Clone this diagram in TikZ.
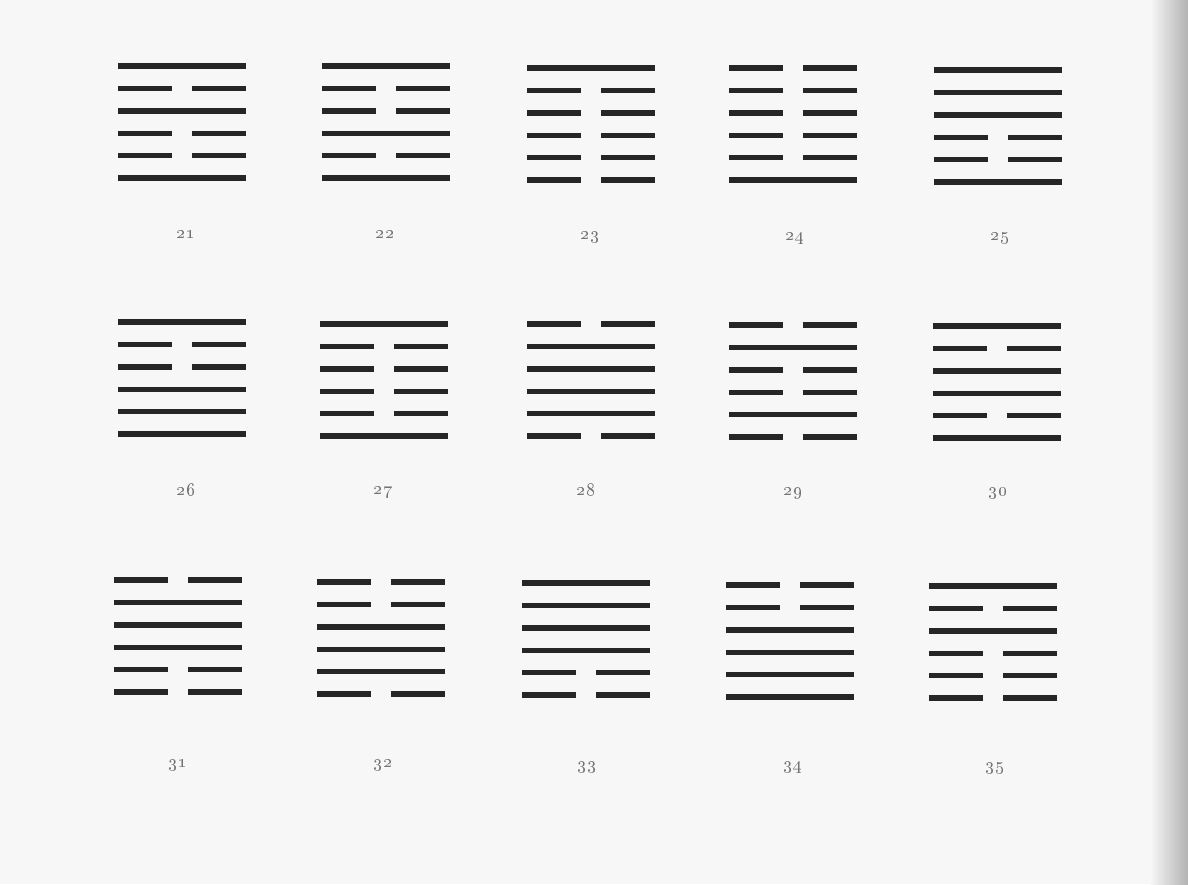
\documentclass[tikz,border=0pt]{standalone}
\usepackage{tikz}

\tikzset{
  yang/.style={line width=2.7pt,color=black!85},
  yin/.style={line width=2.7pt,color=black!85},
  num/.style={font=\small,text=black!55,inner sep=1pt}
}

% #1 centre x, #2 top y, #3 lines from top to bottom (1 whole, 0 broken)
\newcommand{\hexa}[3]{%
  \foreach \b [count=\i from 0] in {#3} {
    \pgfmathsetmacro{\yy}{#2+22.4*\i}
    \ifnum\b=1
      \draw[yang] (#1-64,\yy) -- (#1+64,\yy);
    \else
      \draw[yin] (#1-64,\yy) -- (#1-10,\yy);
      \draw[yin] (#1+10,\yy) -- (#1+64,\yy);
    \fi
  }
}

\begin{document}
\begin{tikzpicture}[x=0.5pt,y=-0.5pt]
  \useasboundingbox (0,0) rectangle (1188,884);
  \fill[black!3] (0,0) rectangle (1188,884);
  \shade[left color=black!3,right color=black!30] (1150,0) rectangle (1188,884);

  % first row
  \hexa{182}{66}{1,0,1,0,0,1}
  \hexa{386}{66}{1,0,0,1,0,1}
  \hexa{591}{68}{1,0,0,0,0,0}
  \hexa{793}{68}{0,0,0,0,0,1}
  \hexa{998}{70}{1,1,1,0,0,1}
  \node[num] (n21) at (186,235) {\oldstylenums{21}};
  \node[num] (n22) at (385,235) {\oldstylenums{22}};
  \node[num] (n23) at (590,237) {\oldstylenums{23}};
  \node[num] (n24) at (795,238) {\oldstylenums{24}};
  \node[num] (n25) at (1000,238) {\oldstylenums{25}};

  % second row
  \hexa{182}{322}{1,0,0,1,1,1}
  \hexa{384}{324}{1,0,0,0,0,1}
  \hexa{591}{324}{0,1,1,1,1,0}
  \hexa{793}{325}{0,1,0,0,1,0}
  \hexa{997}{326}{1,0,1,1,0,1}
  \node[num] (n26) at (186,490) {\oldstylenums{26}};
  \node[num] (n27) at (383,492) {\oldstylenums{27}};
  \node[num] (n28) at (586,490) {\oldstylenums{28}};
  \node[num] (n29) at (793,493) {\oldstylenums{29}};
  \node[num] (n30) at (998,493) {\oldstylenums{30}};

  % third row
  \hexa{178}{580}{0,1,1,1,0,0}
  \hexa{381}{582}{0,0,1,1,1,0}
  \hexa{586}{583}{1,1,1,1,0,0}
  \hexa{790}{585}{0,0,1,1,1,1}
  \hexa{993}{586}{1,0,1,0,0,0}
  \node[num] (n31) at (178,765) {\oldstylenums{31}};
  \node[num] (n32) at (383,765) {\oldstylenums{32}};
  \node[num] (n33) at (587,767) {\oldstylenums{33}};
  \node[num] (n34) at (793,767) {\oldstylenums{34}};
  \node[num] (n35) at (995,768) {\oldstylenums{35}};
\end{tikzpicture}
\end{document}
